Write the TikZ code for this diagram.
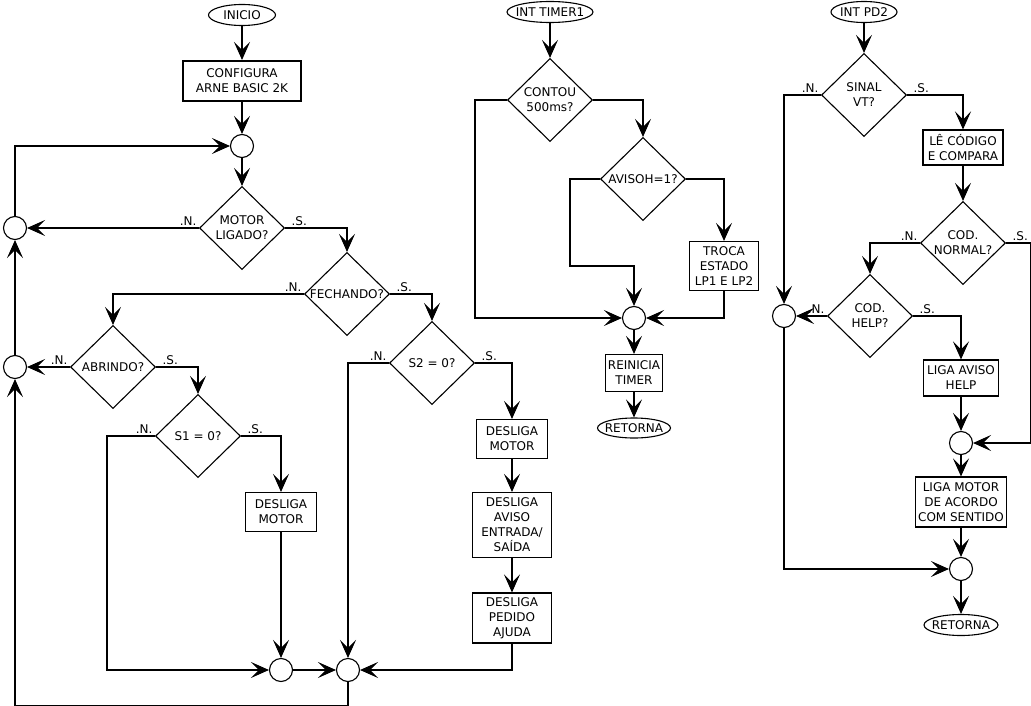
\documentclass[tikz,border=0pt]{standalone}
\usepackage{fontspec}
\setmainfont{DejaVu Sans}
\usetikzlibrary{shapes.geometric,arrows.meta}

\begin{document}
\begin{tikzpicture}[x=1pt,y=1pt,line width=1.1pt,>={Stealth[length=18pt,width=16pt,inset=8pt]},font=\fontsize{12}{15}\selectfont]
\tikzstyle{every node}+=[inner sep=0pt]
\tikzstyle{term}=[ellipse,draw,minimum height=21pt]
\tikzstyle{box}=[rectangle,draw,align=center]
\tikzstyle{dia}=[diamond,draw,minimum width=85pt,minimum height=83pt]
\tikzstyle{junc}=[circle,draw,minimum size=23pt]
\tikzstyle{nao}=[above left,inner sep=2pt]
\tikzstyle{sim}=[above right,inner sep=2pt,xshift=4pt]
\useasboundingbox (0,0) rectangle (1031,-706);
\node[term,minimum width=67pt,label=center:INICIO] (inicio) at (242,-15) {};
\node[box,line width=2pt,minimum width=118pt,minimum height=40pt] (config) at (242,-81) {CONFIGURA\\ARNE BASIC 2K};
\node[junc] (j1) at (242,-146) {};
\node[dia,label={[align=center]center:MOTOR\\LIGADO?}] (motor) at (242,-228) {};
\node[junc] (j2) at (15,-228) {};
\node[dia,label=center:FECHANDO?] (fech) at (347,-294) {};
\node[dia,label=center:ABRINDO?] (abr) at (113,-367) {};
\node[junc] (j3) at (15,-367) {};
\node[dia,label={center:{S1 = 0?}}] (s1) at (198,-436) {};
\node[box,minimum width=71pt,minimum height=39pt] (dm1) at (281,-512) {DESLIGA\\MOTOR};
\node[junc] (j4) at (281,-670) {};
\node[junc] (j5) at (348,-670) {};
\node[dia,label={center:{S2 = 0?}}] (s2) at (432,-363) {};
\node[box,minimum width=71pt,minimum height=39pt] (dm2) at (512,-439) {DESLIGA\\MOTOR};
\node[box,minimum width=79pt,minimum height=65pt] (da) at (512,-525) {DESLIGA\\AVISO\\ENTRADA/\\SAÍDA};
\node[box,minimum width=79pt,minimum height=50pt] (dp) at (512,-618) {DESLIGA\\PEDIDO\\AJUDA};
\draw[->] (inicio) -- (config);
\draw[->] (config) -- (j1);
\draw[->] (j1) -- (motor);
\draw[->] (motor.west) -- node[nao,at start]{.N.} (j2);
\draw[->] (motor.east) -- node[sim,at start]{.S.} ++(0,0) -| (fech.north);
\draw[->] (fech.west) -- node[nao,at start]{.N.} ++(0,0) -| (abr.north);
\draw[->] (fech.east) -- node[sim,at start]{.S.} ++(0,0) -| (s2.north);
\draw[->] (abr.west) -- node[nao,at start]{.N.} (j3);
\draw[->] (abr.east) -- node[sim,at start]{.S.} ++(0,0) -| (s1.north);
\draw[->] (s1.west) -- node[nao,at start]{.N.} ++(-48,0) |- (j4);
\draw[->] (s1.east) -- node[sim,at start]{.S.} ++(0,0) -| (dm1.north);
\draw[->] (dm1) -- (j4);
\draw[->] (j4) -- (j5);
\draw[->] (s2.west) -- node[nao,at start]{.N.} ++(0,0) -| (j5.north);
\draw[->] (s2.east) -- node[sim,at start]{.S.} ++(0,0) -| (dm2.north);
\draw[->] (dm2) -- (da);
\draw[->] (da) -- (dp);
\draw[->] (dp.south) |- (j5.east);
\draw[->] (j5.south) -- ++(0,-23) -| (j3.south);
\draw[->] (j3) -- (j2);
\draw[->] (j2.north) |- (j1.west);
\node[term,minimum width=86pt,label=center:INT TIMER1] (timer) at (550,-12) {};
\node[dia,label={[align=center]center:CONTOU\\500ms?}] (contou) at (550,-100) {};
\node[dia,label={center:{AVISOH=1?}}] (aviso) at (643,-179) {};
\node[box,minimum width=69pt,minimum height=49pt] (troca) at (724,-266) {TROCA\\ESTADO\\LP1 E LP2};
\node[junc] (j6) at (634,-318) {};
\node[box,minimum width=57pt,minimum height=37pt] (reinicia) at (634,-373) {REINICIA\\TIMER};
\node[term,minimum width=73pt,minimum height=20pt,label=center:RETORNA] (ret1) at (634,-428) {};
\draw[->] (timer) -- (contou);
\draw[->] (contou.west) -- ++(-32,0) |- (j6);
\draw[->] (contou.east) -| (aviso.north);
\draw[->] (aviso.west) -- ++(-30,0) -- ++(0,-87) -| (j6.north);
\draw[->] (aviso.east) -| (troca.north);
\draw[->] (troca.south) |- (j6.east);
\draw[->] (j6) -- (reinicia);
\draw[->] (reinicia) -- (ret1);
\node[term,minimum width=66pt,label=center:INT PD2] (pd2) at (864,-12) {};
\node[dia,label={[align=center]center:SINAL\\VT?}] (sinal) at (864,-95) {};
\node[box,line width=2pt,minimum width=80pt,minimum height=35pt] (le) at (963,-148) {LÊ CÓDIGO\\E COMPARA};
\node[dia,label={[align=center]center:COD.\\NORMAL?}] (normal) at (963,-243) {};
\node[dia,label={[align=center]center:COD.\\HELP?}] (help) at (870,-316) {};
\node[junc] (j7) at (784,-316) {};
\node[box,minimum width=75pt,minimum height=36pt] (liga) at (961,-378) {LIGA AVISO\\HELP};
\node[junc] (j8) at (961,-443) {};
\node[box,minimum width=91pt,minimum height=50pt] (ligam) at (961,-502) {LIGA MOTOR\\DE ACORDO\\COM SENTIDO};
\node[junc] (j9) at (961,-569) {};
\node[term,minimum width=74pt,label=center:RETORNA] (ret2) at (961,-625) {};
\draw[->] (pd2) -- (sinal);
\draw[->] (sinal.west) -- node[nao,at start]{.N.} ++(0,0) -| (j7.north);
\draw[->] (sinal.east) -- node[sim,at start]{.S.} ++(0,0) -| (le.north);
\draw[->] (le) -- (normal);
\draw[->] (normal.west) -- node[nao,at start]{.N.} ++(0,0) -| (help.north);
\draw[->] (normal.east) -- node[sim,at start]{.S.} ++(24,0) |- (j8.east);
\draw[->] (help.west) -- node[nao,at start]{.N.} (j7);
\draw[->] (help.east) -- node[sim,at start]{.S.} ++(0,0) -| (liga.north);
\draw[->] (liga) -- (j8);
\draw[->] (j8) -- (ligam);
\draw[->] (ligam) -- (j9);
\draw[->] (j7.south) |- (j9.west);
\draw[->] (j9) -- (ret2);
\end{tikzpicture}
\end{document}
